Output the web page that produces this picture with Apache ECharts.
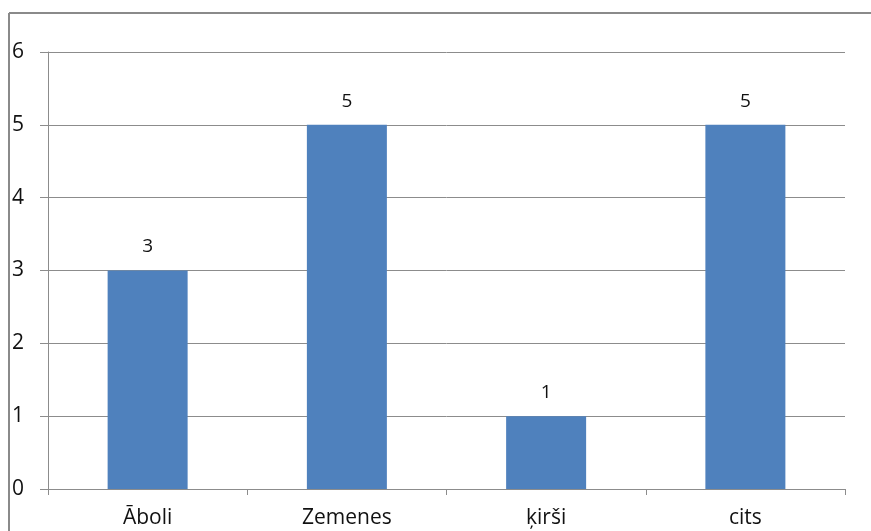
<!DOCTYPE html>
<html>
<head>
<meta charset="utf-8">
<script src="https://cdn.jsdelivr.net/npm/echarts@6/dist/echarts.min.js"></script>
<style>
  html, body { margin: 0; padding: 0; background: #fff; }
  #chart { width: 871px; height: 531px; }
</style>
</head>
<body>
<div id="chart"></div>
<script>
// dati no attēla
const categories = ['Āboli', 'Zemenes', 'ķirši', 'cits'];
const values = [3, 5, 1, 5];
const yTicks = [0, 1, 2, 3, 4, 5, 6];

const gridColor = '#8c8c8c';
const textColor = '#111';
const fontFamily = '"Open Sans", "Noto Sans", sans-serif';

const chart = echarts.init(document.getElementById('chart'), null, { renderer: 'canvas' });

chart.setOption({
  animation: false,
  grid: { left: 48, right: 26, top: 52, bottom: 42 },
  // rāmis ap diagrammu (augša un kreisā mala)
  graphic: [
    { type: 'line', shape: { x1: 9, y1: 13, x2: 871, y2: 13 }, style: { stroke: '#8a8a8a', lineWidth: 2 } },
    { type: 'line', shape: { x1: 9, y1: 13, x2: 9, y2: 531 }, style: { stroke: '#8a8a8a', lineWidth: 2 } },
  ],
  xAxis: {
    type: 'category',
    data: categories,
    axisLine: { lineStyle: { color: gridColor, width: 1 } },
    axisTick: { show: true, length: 6, lineStyle: { color: gridColor } },
    axisLabel: { color: textColor, fontSize: 21, fontFamily, margin: 19 },
  },
  yAxis: {
    type: 'value',
    min: yTicks[0],
    max: yTicks[yTicks.length - 1],
    interval: 1,
    axisLine: { show: true, lineStyle: { color: gridColor, width: 1 } },
    axisTick: { show: true, length: 8, lineStyle: { color: gridColor } },
    axisLabel: { color: textColor, fontSize: 21, fontFamily, margin: 24 },
    splitLine: { show: true, lineStyle: { color: gridColor, width: 1 } },
  },
  series: [
    {
      type: 'bar',
      data: values,
      barWidth: 80,
      itemStyle: { color: '#4f81bd' },
      label: {
        show: true,
        position: 'top',
        distance: 14,
        color: textColor,
        fontSize: 19,
        fontFamily,
      },
    },
  ],
});
</script>
</body>
</html>
